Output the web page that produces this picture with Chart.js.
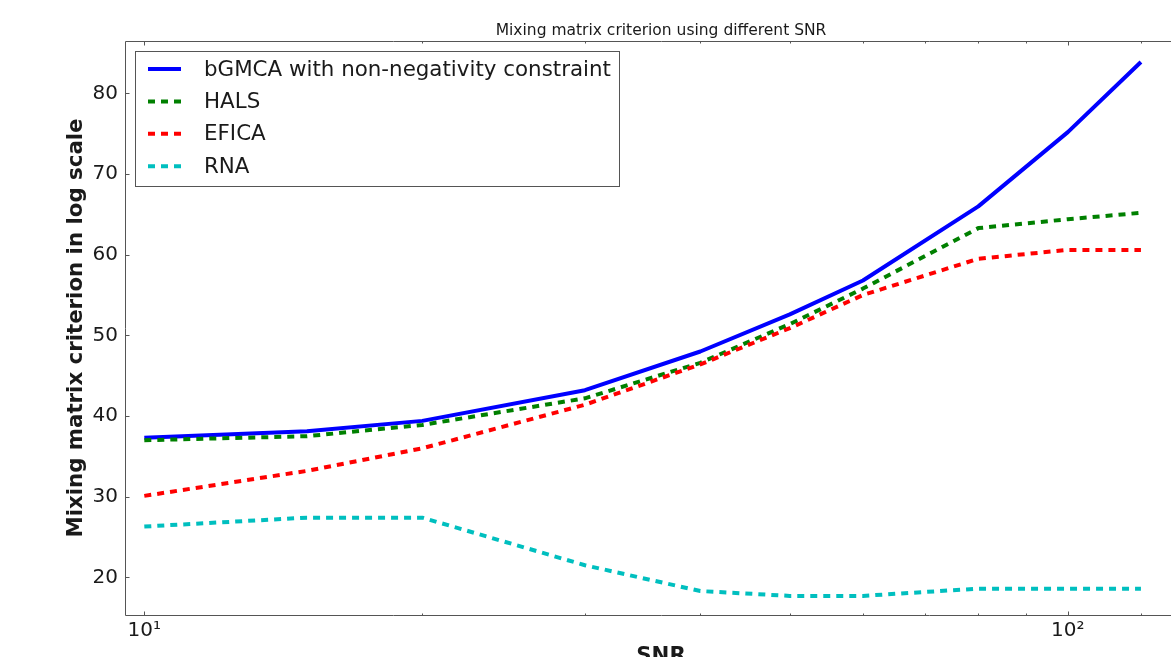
<!DOCTYPE html>
<html>
<head>
<meta charset="utf-8">
<script src="https://cdn.jsdelivr.net/npm/chart.js@4/dist/chart.umd.min.js"></script>
<style>
  html, body { margin: 0; padding: 0; background: #ffffff; overflow: hidden; }
  #view { position: relative; width: 1171px; height: 657px; overflow: hidden; }
  #chart { position: absolute; left: 0; top: 0; }
</style>
</head>
<body>
<div id="view"><canvas id="chart" width="1240" height="690"></canvas></div>
<script>
// SNR values (log-scaled x axis)
const snr = [10, 15, 20, 30, 40, 50, 60, 80, 100, 120];

// Mixing matrix criterion per method
const bgmca = [37.3, 38.1, 39.4, 43.2, 48.0, 52.6, 56.8, 66.0, 75.2, 83.9];
const hals  = [37.0, 37.5, 38.9, 42.2, 46.6, 51.4, 55.8, 63.3, 64.4, 65.2];
const efica = [30.1, 33.2, 36.0, 41.4, 46.4, 50.9, 55.0, 59.5, 60.6, 60.6];
const rna   = [26.3, 27.4, 27.4, 21.5, 18.3, 17.7, 17.7, 18.6, 18.6, 18.6];

const seriesLabels = ['bGMCA with non-negativity constraint', 'HALS', 'EFICA', 'RNA'];

// Axis ticks
const yTicks = [20, 30, 40, 50, 60, 70, 80];
const xMajorTicks = [10, 100];
const xMinorTicks = [20, 30, 40, 50, 60, 70, 80, 90, 120];
const xTickLabels = { 10: '10\u00B9', 100: '10\u00B2' };

const FONT = "'DejaVu Sans', sans-serif";
const TEXT = '#1a1a1a';
const FRAME = '#555555';

const CANVAS_W = 1240, CANVAS_H = 690;
const AREA_LEFT = 125, AREA_TOP = 41, AREA_RIGHT = 1197, AREA_BOTTOM = 615;

function pts(ys) { return snr.map((x, i) => ({ x: x, y: ys[i] })); }

// Axis lines, inward tick marks, titles and the in-plot legend
const framePlugin = {
  id: 'frame',
  afterDatasetsDraw(chart) {
    const ctx = chart.ctx;
    const a = chart.chartArea;
    const xs = chart.scales.x, ys = chart.scales.y;
    const L = Math.round(a.left) + 0.5, T = Math.round(a.top) + 0.5;
    const B = Math.round(a.bottom) + 0.5, R = Math.round(a.right) + 0.5;
    ctx.save();
    ctx.strokeStyle = FRAME;
    ctx.lineWidth = 1;
    ctx.beginPath();
    ctx.moveTo(R, T); ctx.lineTo(L, T); ctx.lineTo(L, B); ctx.lineTo(R, B);

    // tick marks pointing into the plot
    const xTick = (v, len) => {
      const px = Math.round(xs.getPixelForValue(v)) + 0.5;
      ctx.moveTo(px, B); ctx.lineTo(px, B - len);
      ctx.moveTo(px, T); ctx.lineTo(px, T + len);
    };
    xMajorTicks.forEach(v => xTick(v, 4));
    xMinorTicks.forEach(v => xTick(v, 2));
    yTicks.forEach(v => {
      const py = Math.round(ys.getPixelForValue(v)) + 0.5;
      ctx.moveTo(L, py); ctx.lineTo(L + 4, py);
    });
    ctx.stroke();

    // chart title
    const cx = (a.left + a.right) / 2;
    ctx.fillStyle = TEXT;
    ctx.font = '15.5px ' + FONT;
    ctx.textAlign = 'center';
    ctx.textBaseline = 'alphabetic';
    ctx.fillText('Mixing matrix criterion using different SNR', cx, 35);

    // axis titles
    ctx.font = 'bold 21.3px ' + FONT;
    ctx.textBaseline = 'top';
    ctx.fillText('SNR', cx, 646);
    ctx.save();
    ctx.translate(76, (a.top + a.bottom) / 2);
    ctx.rotate(-Math.PI / 2);
    ctx.textBaseline = 'middle';
    ctx.fillText('Mixing matrix criterion in log scale', 0, 0);
    ctx.restore();

    // legend box
    const lx = 135, ly = 51, lw = 484, lh = 135;
    ctx.fillStyle = '#ffffff';
    ctx.fillRect(lx, ly, lw, lh);
    ctx.strokeStyle = FRAME;
    ctx.lineWidth = 1;
    ctx.strokeRect(lx + 0.5, ly + 0.5, lw, lh);
    ctx.font = '21.4px ' + FONT;
    ctx.textAlign = 'left';
    ctx.textBaseline = 'middle';
    chart.data.datasets.forEach((ds, i) => {
      const y = 69 + i * 32.4;
      ctx.save();
      ctx.strokeStyle = ds.borderColor;
      ctx.lineWidth = ds.borderWidth;
      ctx.setLineDash(ds.borderDash || []);
      ctx.beginPath();
      ctx.moveTo(148, y); ctx.lineTo(181, y);
      ctx.stroke();
      ctx.restore();
      ctx.fillStyle = TEXT;
      ctx.fillText(ds.label, 204, y + 1);
    });
    ctx.restore();
  }
};

const dash = [7, 6];

new Chart(document.getElementById('chart'), {
  type: 'line',
  data: {
    datasets: [
      { label: seriesLabels[0], data: pts(bgmca), borderColor: '#0000ff', borderWidth: 4, order: 4 },
      { label: seriesLabels[1], data: pts(hals),  borderColor: '#008000', borderWidth: 4, borderDash: dash, order: 3 },
      { label: seriesLabels[2], data: pts(efica), borderColor: '#ff0000', borderWidth: 4, borderDash: dash, order: 2 },
      { label: seriesLabels[3], data: pts(rna),   borderColor: '#00bfbf', borderWidth: 4, borderDash: dash, order: 1 }
    ]
  },
  options: {
    responsive: false,
    animation: false,
    devicePixelRatio: 1,
    layout: { padding: { left: 0, top: AREA_TOP, right: CANVAS_W - AREA_RIGHT, bottom: 0 } },
    plugins: { legend: { display: false }, tooltip: { enabled: false }, title: { display: false } },
    elements: {
      point: { radius: 0, hoverRadius: 0 },
      line: { tension: 0, borderCapStyle: 'butt', borderJoinStyle: 'round', fill: false }
    },
    scales: {
      x: {
        type: 'logarithmic',
        min: 9.53,
        max: 138,
        grid: { display: false, drawTicks: false },
        border: { display: false },
        afterBuildTicks: s => {
          s.ticks = xMajorTicks.concat(xMinorTicks).sort((p, q) => p - q).map(v => ({ value: v }));
        },
        afterFit: s => { s.height = CANVAS_H - AREA_BOTTOM; },
        ticks: {
          autoSkip: false,
          maxRotation: 0,
          padding: 4,
          color: TEXT,
          font: { family: FONT, size: 20 },
          callback: v => xTickLabels[v] || ''
        }
      },
      y: {
        type: 'linear',
        min: 15.33,
        max: 86.5,
        grid: { display: false, drawTicks: false },
        border: { display: false },
        afterBuildTicks: s => { s.ticks = yTicks.map(v => ({ value: v })); },
        afterFit: s => { s.width = AREA_LEFT; },
        ticks: {
          padding: 7,
          color: TEXT,
          font: { family: FONT, size: 20 },
          callback: v => String(v)
        }
      }
    }
  },
  plugins: [framePlugin]
});
</script>
</body>
</html>
